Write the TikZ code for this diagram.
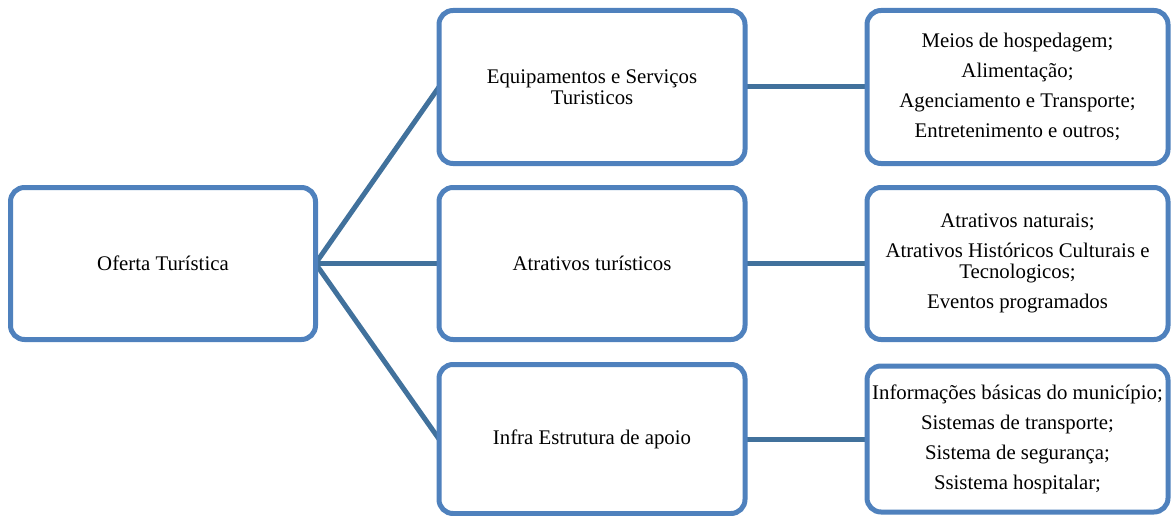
\documentclass[tikz,border=0pt]{standalone}
\usepackage{fontspec}
\setmainfont{Liberation Serif}
\usetikzlibrary{backgrounds}
\definecolor{boxblue}{HTML}{4F81BD}
\definecolor{linkblue}{HTML}{41719C}
\begin{document}
\begin{tikzpicture}[x=1pt,y=-1pt,
  box/.style={draw=boxblue, line width=5pt, rounded corners=14pt, fill=white,
    inner sep=0pt, outer sep=0pt, align=center, text=black,
    font=\fontsize{20.8}{21}\selectfont},
  link/.style={draw=linkblue, line width=5pt}]
\useasboundingbox (0,0) rectangle (1172,516);
\node[box, minimum width=305pt, minimum height=152pt] (root) at (163,263.5) {Oferta Turística};
\node[box, minimum width=306pt, minimum height=153pt] (m1) at (592,87) {Equipamentos e Serviços\\Turisticos};
\node[box, minimum width=306pt, minimum height=152pt] (m2) at (592,263.5) {Atrativos turísticos};
\node[box, minimum width=306pt, minimum height=149pt] (m3) at (592,439) {Infra Estrutura de apoio};
\node[box, minimum width=301pt, minimum height=153pt] (r1) at (1017.5,87) {Meios de hospedagem;\\[9pt]Alimentação;\\[9pt]Agenciamento e Transporte;\\[9pt]Entretenimento e outros;};
\node[box, minimum width=301pt, minimum height=152pt] (r2) at (1017.5,263.5) {Atrativos naturais;\\[9pt]Atrativos Históricos Culturais e\\Tecnologicos;\\[9pt]Eventos programados};
\node[box, minimum width=301pt, minimum height=146pt] (r3) at (1017.5,439) {Informações básicas do município;\\[9pt]Sistemas de transporte;\\[9pt]Sistema de segurança;\\[9pt]Ssistema hospitalar;};
\begin{scope}[on background layer]
\draw[link] (root.east) -- (m1.west);
\draw[link] (root.east) -- (m2.west);
\draw[link] (root.east) -- (m3.west);
\draw[link] (m1.east) -- (r1.west);
\draw[link] (m2.east) -- (r2.west);
\draw[link] (m3.east) -- (r3.west);
\end{scope}
\end{tikzpicture}
\end{document}
